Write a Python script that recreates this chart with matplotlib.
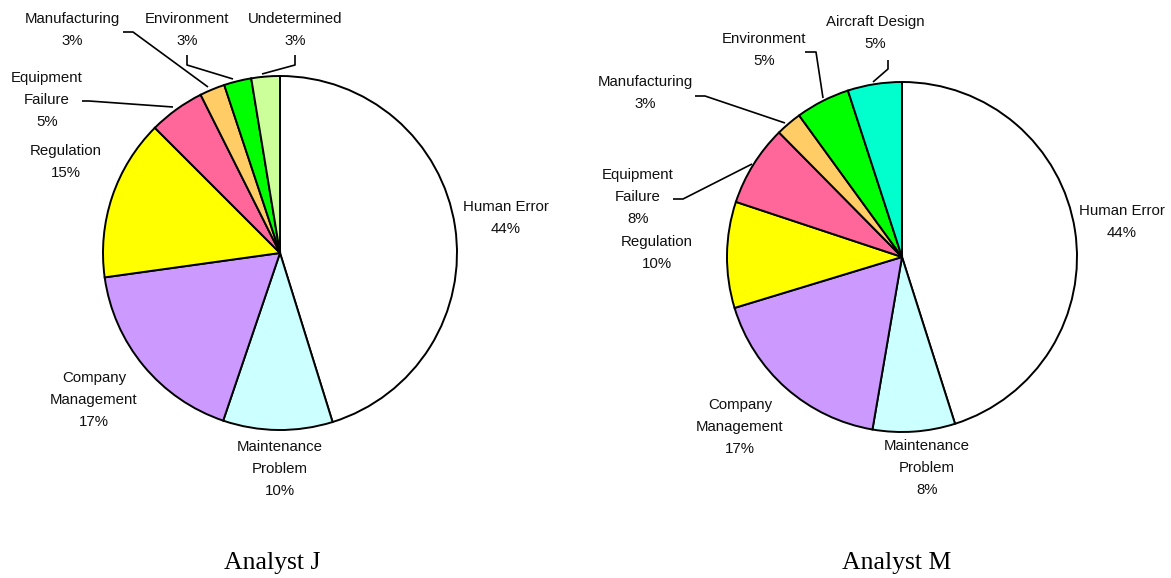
import matplotlib
matplotlib.use('Agg')
import matplotlib.pyplot as plt

# Causes, clockwise from 12 o'clock
causes_j = ['Human Error', 'Maintenance\nProblem', 'Company\nManagement', 'Regulation',
            'Equipment\nFailure', 'Manufacturing', 'Environment', 'Undetermined']
share_j = [45.2, 10.0, 17.6, 14.7, 5.1, 2.3, 2.5, 2.6]
pct_j = ['44%', '10%', '17%', '15%', '5%', '3%', '3%', '3%']

causes_m = ['Human Error', 'Maintenance\nProblem', 'Company\nManagement', 'Regulation',
            'Equipment\nFailure', 'Manufacturing', 'Environment', 'Aircraft Design']
share_m = [45.1, 7.6, 17.6, 9.8, 7.5, 2.4, 5.0, 5.0]
pct_m = ['44%', '8%', '17%', '10%', '8%', '3%', '5%', '5%']

colors = {
    'Human Error': '#FFFFFF',
    'Maintenance\nProblem': '#CCFFFF',
    'Company\nManagement': '#CC99FF',
    'Regulation': '#FFFF00',
    'Equipment\nFailure': '#FF6699',
    'Manufacturing': '#FFCC66',
    'Environment': '#00FF00',
    'Undetermined': '#CCFF99',
    'Aircraft Design': '#00FFCC',
}

W, H = 1171, 578


def py(y):
    # pixel row (from top) -> data y
    return H - y


fig = plt.figure(figsize=(W / 100, H / 100), dpi=100)
ax = fig.add_axes([0, 0, 1, 1])

label_font = dict(family=['Liberation Sans', 'DejaVu Sans'], fontsize=10.8,
                  ha='center', va='center', linespacing=1.77)

# label centres (pixels) and leader lines for each chart
pies = [
    dict(causes=causes_j, share=share_j, pct=pct_j, center=(280, 253), r=177,
         title='Analyst J', title_x=272,
         pos=[(506, 218), (280, 469), (94, 400), (66, 162), (47, 100),
              (72, 30), (187, 30), (295, 30)],
         leaders=[[(82, 101), (89, 101), (173, 107)],
                  [(123, 32), (133, 32), (208, 87)],
                  [(187, 55), (187, 65), (233, 79)],
                  [(295, 55), (295, 65), (262, 74)]]),
    dict(causes=causes_m, share=share_m, pct=pct_m, center=(902, 257), r=175,
         title='Analyst M', title_x=897,
         pos=[(1122, 222), (927, 468), (740, 427), (657, 253), (638, 197),
              (645, 93), (764, 50), (875, 33)],
         leaders=[[(673, 199), (683, 199), (752, 164)],
                  [(695, 96), (705, 96), (785, 123)],
                  [(805, 52), (816, 52), (823, 98)],
                  [(888, 60), (888, 69), (873, 82)]]),
]

for p in pies:
    cx, cy = p['center']
    ax.pie(p['share'], colors=[colors[c] for c in p['causes']],
           startangle=90, counterclock=False, center=(cx, py(cy)), radius=p['r'],
           wedgeprops=dict(edgecolor='black', linewidth=1.4), frame=True)
    for name, pc, (lx, ly) in zip(p['causes'], p['pct'], p['pos']):
        ax.text(lx, py(ly), name + '\n' + pc, color='#111111', **label_font)
    for line in p['leaders']:
        ax.plot([q[0] for q in line], [py(q[1]) for q in line],
                color='black', linewidth=1.2, solid_capstyle='butt')
    ax.text(p['title_x'], py(563), p['title'], family=['Liberation Serif', 'DejaVu Serif'],
            fontsize=18.5, ha='center', va='center', color='black')

ax.set_xlim(0, W)
ax.set_ylim(0, H)
ax.set_aspect('auto')
ax.axis('off')

fig.savefig('out.png', dpi=100)
